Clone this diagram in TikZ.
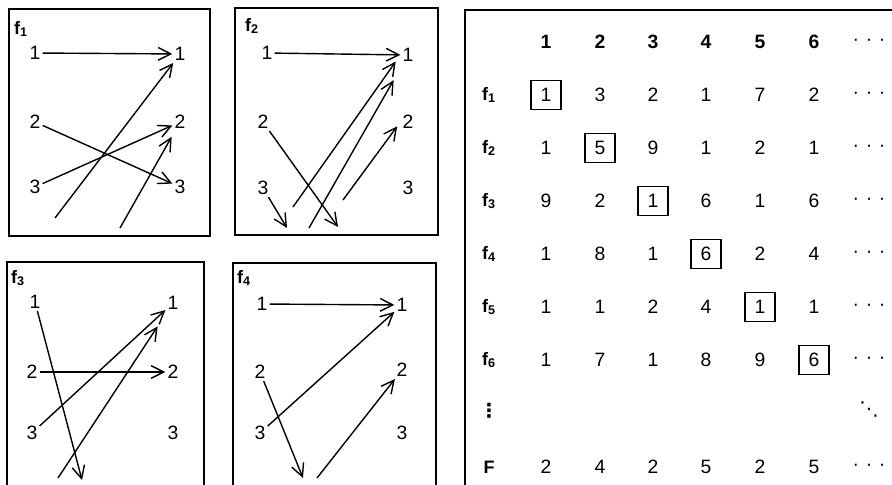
\documentclass[tikz,border=0pt]{standalone}
\usepackage{fontspec}
\setmainfont{Liberation Sans}
\newfontfamily\symfont{DejaVu Sans}
\usetikzlibrary{arrows.meta}
\newcommand{\celldots}{\textperiodcentered\hspace{5pt}\textperiodcentered\hspace{5pt}\textperiodcentered}

\begin{document}
\begin{tikzpicture}[x=0.75pt,y=-0.75pt,
  lbl/.style={font=\fontsize{14.5}{17}\selectfont,inner sep=1.5pt},
  tag/.style={font=\fontsize{13.5}{16}\selectfont\bfseries,inner sep=1pt},
  arr/.style={-{Straight Barb[length=9.5pt,width=9.5pt]},line width=1.05pt},
  frame/.style={line width=1.3pt},
  cell/.style={font=\fontsize{14.5}{17}\selectfont,inner sep=1pt},
  head/.style={cell,font=\fontsize{14.5}{17}\selectfont\bfseries},
  pick/.style={cell,draw,line width=0.8pt,minimum width=22.5pt,minimum height=21.5pt}]
\useasboundingbox (0,0) rectangle (892,485);

\draw[frame] (9,9) rectangle (210,236);
\node[tag] (f1tag) at (21,29) {f\textsubscript{1}};
\node[lbl] (f1s1) at (35,53) {1};
\node[lbl] (f1s2) at (35,122) {2};
\node[lbl] (f1s3) at (35,187) {3};
\node[lbl] (f1t1) at (180,54) {1};
\node[lbl] (f1t2) at (180,122) {2};
\node[lbl] (f1t3) at (180,187) {3};
\coordinate (f1s4) at (55,218);
\coordinate (f1s5) at (120,228);
\draw[arr] (f1s1) -- (f1t1);
\draw[arr] (f1s2) -- (f1t3);
\draw[arr] (f1s3) -- (f1t2);
\draw[arr] (f1s4) -- (f1t1);
\draw[arr,shorten >=5pt] (f1s5) -- (f1t2);

\draw[frame] (235,8) rectangle (438,235);
\node[tag] (f2tag) at (252,26) {f\textsubscript{2}};
\node[lbl] (f2s1) at (267,53) {1};
\node[lbl] (f2s2) at (263,122) {2};
\node[lbl] (f2s3) at (263,188) {3};
\node[lbl] (f2t1) at (408,55) {1};
\node[lbl] (f2t2) at (408,122) {2};
\node[lbl] (f2t3) at (408,188) {3};
\coordinate (f2e2) at (338,227);
\coordinate (f2e3) at (287,228);
\coordinate (f2s4) at (293,207);
\coordinate (f2s5) at (309,228);
\coordinate (f2s6) at (343,200);
\draw[arr] (f2s1) -- (f2t1);
\draw[arr] (f2s2) -- (f2e2);
\draw[arr] (f2s3) -- (f2e3);
\draw[arr,shorten >=6pt] (f2s4) -- (f2t1.west);
\draw[arr,shorten >=14pt] (f2s5) -- (f2t1);
\draw[arr,shorten >=4pt] (f2s6) -- (f2t2.west);

\draw[frame] (7,485) -- (7,262) -- (204,262) -- (204,485);
\node[tag] (f3tag) at (18,278) {f\textsubscript{3}};
\node[lbl] (f3s1) at (35,302) {1};
\node[lbl] (f3s2) at (32,372) {2};
\node[lbl] (f3s3) at (32,433) {3};
\node[lbl] (f3t1) at (173,303) {1};
\node[lbl] (f3t2) at (173,372) {2};
\node[lbl] (f3t3) at (173,433) {3};
\coordinate (f3e1) at (82,480);
\coordinate (f3s4) at (58,478);
\draw[arr] (f3s1) -- (f3e1);
\draw[arr] (f3s2) -- (f3t2);
\draw[arr] (f3s3) -- (f3t1);
\draw[arr,shorten >=13pt] (f3s4) -- (f3t1);

\draw[frame] (233,485) -- (233,263) -- (436,263) -- (436,485);
\node[tag] (f4tag) at (244,278) {f\textsubscript{4}};
\node[lbl] (f4s1) at (262,304) {1};
\node[lbl] (f4s2) at (260,372) {2};
\node[lbl] (f4s3) at (260,433) {3};
\node[lbl] (f4t1) at (402,305) {1};
\node[lbl] (f4t2) at (402,370) {2};
\node[lbl] (f4t3) at (402,433) {3};
\coordinate (f4e2) at (303,478);
\coordinate (f4s4) at (317,478);
\draw[arr] (f4s1) -- (f4t1);
\draw[arr] (f4s2) -- (f4e2);
\draw[arr] (f4s3) -- (f4t1);
\draw[arr] (f4s4) -- (f4t2);

\draw[frame] (892,10) -- (465,10) -- (465,485);
\node[head] (h1) at (546,42) {1}; \node[head] (h2) at (600,42) {2}; \node[head] (h3) at (653,42) {3};
\node[head] (h4) at (706,42) {4}; \node[head] (h5) at (760,42) {5}; \node[head] (h6) at (814,42) {6};
\node[cell] (hd) at (869,42) {\celldots};

\node[tag] (r1) at (489,95) {f\textsubscript{1}};
\node[pick] (c11) at (546,95) {1}; \node[cell] (c12) at (600,95) {3}; \node[cell] (c13) at (653,95) {2};
\node[cell] (c14) at (706,95) {1}; \node[cell] (c15) at (760,95) {7}; \node[cell] (c16) at (814,95) {2};
\node[cell] (d1) at (869,95) {\celldots};

\node[tag] (r2) at (489,148) {f\textsubscript{2}};
\node[cell] (c21) at (546,148) {1}; \node[pick] (c22) at (600,148) {5}; \node[cell] (c23) at (653,148) {9};
\node[cell] (c24) at (706,148) {1}; \node[cell] (c25) at (760,148) {2}; \node[cell] (c26) at (814,148) {1};
\node[cell] (d2) at (869,148) {\celldots};

\node[tag] (r3) at (489,201) {f\textsubscript{3}};
\node[cell] (c31) at (546,201) {9}; \node[cell] (c32) at (600,201) {2}; \node[pick] (c33) at (653,201) {1};
\node[cell] (c34) at (706,201) {6}; \node[cell] (c35) at (760,201) {1}; \node[cell] (c36) at (814,201) {6};
\node[cell] (d3) at (869,201) {\celldots};

\node[tag] (r4) at (489,254) {f\textsubscript{4}};
\node[cell] (c41) at (546,254) {1}; \node[cell] (c42) at (600,254) {8}; \node[cell] (c43) at (653,254) {1};
\node[pick] (c44) at (706,254) {6}; \node[cell] (c45) at (760,254) {2}; \node[cell] (c46) at (814,254) {4};
\node[cell] (d4) at (869,254) {\celldots};

\node[tag] (r5) at (489,307) {f\textsubscript{5}};
\node[cell] (c51) at (546,307) {1}; \node[cell] (c52) at (600,307) {1}; \node[cell] (c53) at (653,307) {2};
\node[cell] (c54) at (706,307) {4}; \node[pick] (c55) at (760,307) {1}; \node[cell] (c56) at (814,307) {1};
\node[cell] (d5) at (869,307) {\celldots};

\node[tag] (r6) at (489,360) {f\textsubscript{6}};
\node[cell] (c61) at (546,360) {1}; \node[cell] (c62) at (600,360) {7}; \node[cell] (c63) at (653,360) {1};
\node[cell] (c64) at (706,360) {8}; \node[cell] (c65) at (760,360) {9}; \node[pick] (c66) at (814,360) {6};
\node[cell] (d6) at (869,360) {\celldots};

\node[cell] (rv) at (489,411) {\symfont\bfseries ⋮};
\node[cell] (dd) at (869,409) {\symfont ⋱};

\node[tag] (rF) at (489,467) {F};
\node[cell] (cF1) at (546,467) {2}; \node[cell] (cF2) at (600,467) {4}; \node[cell] (cF3) at (653,467) {2};
\node[cell] (cF4) at (706,467) {5}; \node[cell] (cF5) at (760,467) {2}; \node[cell] (cF6) at (814,467) {5};
\node[cell] (dF) at (869,467) {\celldots};
\end{tikzpicture}
\end{document}
